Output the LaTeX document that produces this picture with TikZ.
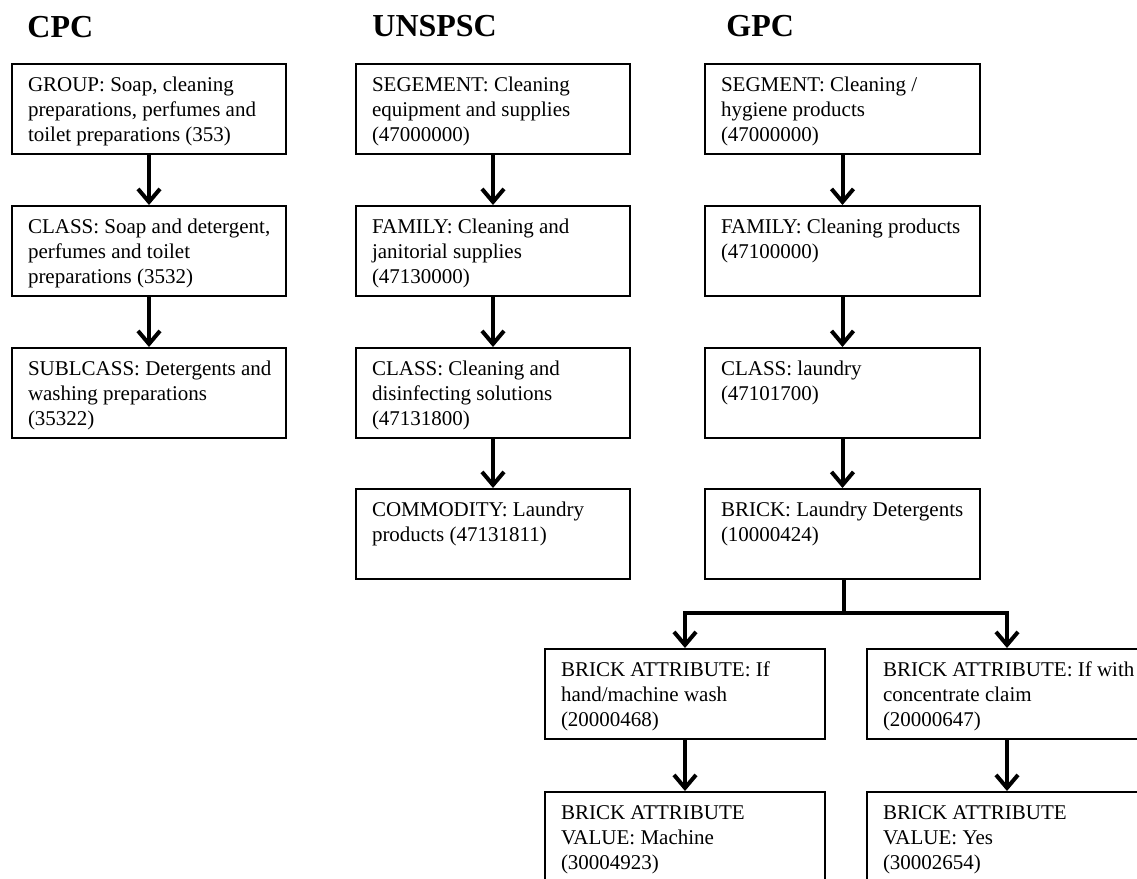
\documentclass[tikz,border=0pt]{standalone}
\usepackage{fontspec}
\setmainfont{Liberation Serif}
\usetikzlibrary{arrows.meta}
\newcommand{\bxtext}[2]{\begin{minipage}[t][45pt][t]{#1}\raggedright\leftskip=8pt\parindent=0pt\fontsize{10.5pt}{12.5pt}\selectfont\rule{0pt}{13.5pt}#2\end{minipage}}
\tikzset{
  box/.style={draw, line width=1pt, inner sep=0pt, anchor=north west},
  head/.style={font=\fontsize{16pt}{19pt}\selectfont\bfseries, anchor=base west, inner sep=0pt},
  arr/.style={line width=2pt, -{Straight Barb[length=6.5pt,width=11pt]}},
}
\begin{document}
\begin{tikzpicture}[x=0.5pt,y=-0.5pt]
\useasboundingbox (0,0) rectangle (1137,879);
\clip (0,0) rectangle (1137,879);
% headers
\node[head] (hcpc) at (27,37) {CPC};
\node[head] (hun) at (372,36) {UNSPSC};
\node[head] (hgpc) at (726,36) {GPC};
% CPC
\node[box] (c1) at (11,63) {\bxtext{137pt}{GROUP: Soap, cleaning\\preparations, perfumes and\\toilet preparations (353)}};
\node[box] (c2) at (11,205) {\bxtext{137pt}{CLASS: Soap and detergent,\\perfumes and toilet\\preparations (3532)}};
\node[box] (c3) at (11,347) {\bxtext{137pt}{SUBLCASS: Detergents and\\washing preparations\\(35322)}};
% UNSPSC
\node[box] (u1) at (355,63) {\bxtext{137pt}{SEGEMENT: Cleaning\\equipment and supplies\\(47000000)}};
\node[box] (u2) at (355,205) {\bxtext{137pt}{FAMILY: Cleaning and\\janitorial supplies\\(47130000)}};
\node[box] (u3) at (355,347) {\bxtext{137pt}{CLASS: Cleaning and\\disinfecting solutions\\(47131800)}};
\node[box] (u4) at (355,488) {\bxtext{137pt}{COMMODITY: Laundry\\products (47131811)}};
% GPC
\node[box] (g1) at (704,63) {\bxtext{137.5pt}{SEGMENT: Cleaning /\\hygiene products\\(47000000)}};
\node[box] (g2) at (704,205) {\bxtext{137.5pt}{FAMILY: Cleaning products\\(47100000)}};
\node[box] (g3) at (704,347) {\bxtext{137.5pt}{CLASS: laundry\\(47101700)}};
\node[box] (g4) at (704,488) {\bxtext{137.5pt}{BRICK: Laundry Detergents\\(10000424)}};
% attributes
\node[box] (a1) at (544,648) {\bxtext{140pt}{BRICK ATTRIBUTE: If\\hand/machine wash\\(20000468)}};
\node[box] (a2) at (866,648) {\bxtext{140pt}{BRICK ATTRIBUTE: If with\\concentrate claim\\(20000647)}};
\node[box] (v1) at (544,791) {\bxtext{140pt}{BRICK ATTRIBUTE\\VALUE: Machine\\(30004923)}};
\node[box] (v2) at (866,791) {\bxtext{140pt}{BRICK ATTRIBUTE\\VALUE: Yes\\(30002654)}};
% connectors
\draw[arr] (c1) -- (c2);
\draw[arr] (c2) -- (c3);
\draw[arr] (u1) -- (u2);
\draw[arr] (u2) -- (u3);
\draw[arr] (u3) -- (u4);
\draw[arr] (g1) -- (g2);
\draw[arr] (g2) -- (g3);
\draw[arr] (g3) -- (g4);
\coordinate (junc) at (844,613);
\draw[line width=2pt] (g4.south -| junc) -- (junc);
\draw[arr] (junc) -| (a1.north);
\draw[arr] (junc) -| (a2.north);
\draw[arr] (a1) -- (v1);
\draw[arr] (a2) -- (v2);
\end{tikzpicture}
\end{document}
